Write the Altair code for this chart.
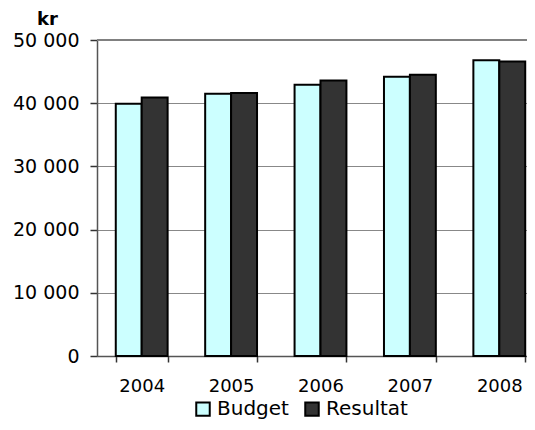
import altair as alt
import pandas as pd

years = ["2004", "2005", "2006", "2007", "2008"]
budget = [39900, 41500, 42900, 44200, 46800]
resultat = [40900, 41600, 43600, 44500, 46600]
series = ["Budget", "Resultat"]
colors = ["#CCFFFF", "#333333"]

rows = []
for i, y in enumerate(years):
    rows.append({"year": y, "serie": "Budget", "value": budget[i]})
    rows.append({"year": y, "serie": "Resultat", "value": resultat[i]})
df = pd.DataFrame(rows)

FONT = "DejaVu Sans"

bars = alt.Chart(df).mark_bar(stroke="black", strokeWidth=2).encode(
    x=alt.X("year:N", title=None,
            scale=alt.Scale(paddingInner=0.42, paddingOuter=0.21),
            axis=alt.Axis(labelAngle=0, labelFontSize=18, labelFont=FONT, labelColor="black",
                          tickBand="extent", tickSize=6, tickColor="#333", tickWidth=1.5,
                          domainColor="#555", domainWidth=1.5, labelPadding=15, grid=False)),
    xOffset=alt.XOffset("serie:N", sort=series),
    y=alt.Y("value:Q", title="kr",
            scale=alt.Scale(domain=[0, 50000], nice=False),
            axis=alt.Axis(values=[0, 10000, 20000, 30000, 40000, 50000],
                          labelExpr="replace(format(datum.value, ','), ',', ' ')",
                          labelFontSize=19, labelFont=FONT, labelColor="black",
                          tickSize=7, tickColor="#333", tickWidth=1.5, labelPadding=11,
                          domainColor="#555", domainWidth=1.5,
                          gridColor="#888", gridWidth=1,
                          titleAngle=0, titleFont=FONT, titleFontSize=18, titleFontWeight="bold",
                          titleAlign="center", titleBaseline="alphabetic",
                          titleX=-50, titleY=-16)),
    color=alt.Color("serie:N", sort=series,
                    scale=alt.Scale(domain=series, range=colors),
                    legend=alt.Legend(title=None, orient="none", direction="horizontal",
                                      legendX=96, legendY=359,
                                      symbolType="square", symbolSize=182,
                                      symbolStrokeColor="black", symbolStrokeWidth=2,
                                      symbolOpacity=1,
                                      labelFont=FONT, labelFontSize=20, labelColor="black",
                                      columnPadding=12, labelOffset=4)),
)

top = alt.Chart(pd.DataFrame({"v": [50000]})).mark_rule(color="#808080", strokeWidth=2).encode(
    y="v:Q"
)

chart = alt.layer(top, bars).properties(
    width=447, height=316,
    autosize=alt.AutoSizeParams(type="none"),
    padding={"left": 89, "top": 32, "right": -17, "bottom": 66},
).configure_view(stroke=None)

chart.save("out.html", embed_options={"renderer": "svg", "actions": False})
